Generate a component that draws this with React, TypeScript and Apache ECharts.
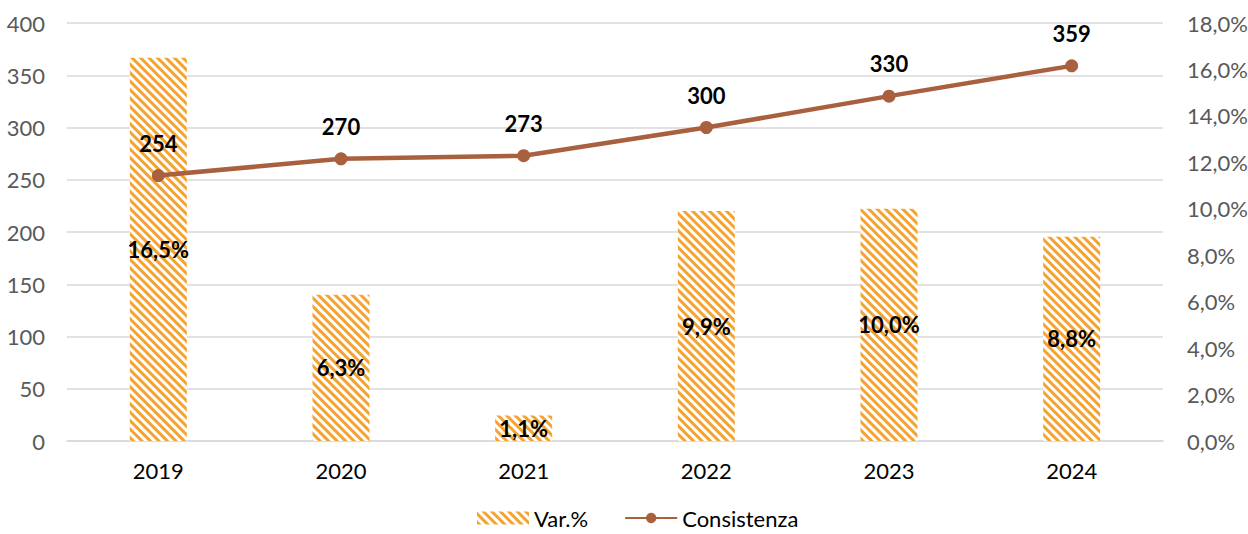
import React, { useEffect, useRef } from "react";
import * as echarts from "echarts";

const years = ["2019", "2020", "2021", "2022", "2023", "2024"];
const varPct = [0.165, 0.063, 0.011, 0.099, 0.1, 0.088];
const consistenza = [254, 270, 273, 300, 330, 359];

const fmtPct = (v: number) => (v * 100).toFixed(1).replace(".", ",") + "%";

export default function App() {
  const ref = useRef<HTMLDivElement>(null);
  useEffect(() => {
    const chart = echarts.init(ref.current!, undefined, { renderer: "svg" });
    const orange = "#F4A230";
    const brown = "#A9603F";
    const font = "Lato, 'Noto Sans', sans-serif";
    const fs = 22;
    chart.setOption({
      animation: false,
      textStyle: { fontFamily: font },
      grid: {
        left: 67,
        right: 85,
        top: 23,
        bottom: 93,
        containLabel: false,
        outerBoundsMode: "none",
      },
      legend: {
        bottom: 0,
        left: 472,
        itemWidth: 52,
        itemHeight: 13,
        itemGap: 36,
        textStyle: { fontSize: fs, color: "#000", fontFamily: font },
        data: [{ name: "Var.%", icon: "rect" }, { name: "Consistenza" }],
      },
      xAxis: {
        type: "category",
        data: years,
        axisLine: { lineStyle: { color: "#D9D9D9", width: 1.5 } },
        axisTick: { show: false },
        axisLabel: { fontSize: fs, color: "#000", margin: 18, fontFamily: font },
      },
      yAxis: [
        {
          type: "value",
          min: 0,
          max: 400,
          interval: 50,
          axisLine: { show: false },
          axisTick: { show: false },
          splitLine: { lineStyle: { color: "#D9D9D9", width: 1.5 } },
          axisLabel: { fontSize: fs, color: "#595959", margin: 22, fontFamily: font },
        },
        {
          type: "value",
          min: 0,
          max: 0.18,
          interval: 0.02,
          axisLine: { show: false },
          axisTick: { show: false },
          splitLine: { show: false },
          axisLabel: {
            fontSize: fs,
            color: "#595959",
            margin: 24,
            fontFamily: font,
            formatter: (v: number) => fmtPct(v),
          },
        },
      ],
      series: [
        {
          name: "Var.%",
          type: "bar",
          yAxisIndex: 1,
          data: varPct,
          barWidth: 57,
          itemStyle: {
            color: "#FFFFFF",
            decal: {
              symbol: "rect",
              symbolSize: 1,
              color: orange,
              backgroundColor: "#FFFFFF",
              dashArrayX: [1, 0],
              dashArrayY: [2.4, 2.2],
              rotation: Math.PI / 4,
            },
          },
          label: {
            show: true,
            position: "inside",
            fontSize: fs,
            fontWeight: "bold",
            color: "#000",
            fontFamily: font,
            formatter: (p: any) => fmtPct(p.value),
          },
        },
        {
          name: "Consistenza",
          type: "line",
          yAxisIndex: 0,
          data: consistenza,
          symbol: "circle",
          symbolSize: 13,
          lineStyle: { color: brown, width: 4.5 },
          itemStyle: { color: brown },
          label: {
            show: true,
            position: "top",
            distance: 15,
            fontSize: fs,
            fontWeight: "bold",
            color: "#000",
            fontFamily: font,
          },
        },
      ],
    });
    return () => chart.dispose();
  }, []);
  return (
    <div
      ref={ref}
      style={{ position: "absolute", left: 0, top: 0, width: 1248, height: 534 }}
    />
  );
}
